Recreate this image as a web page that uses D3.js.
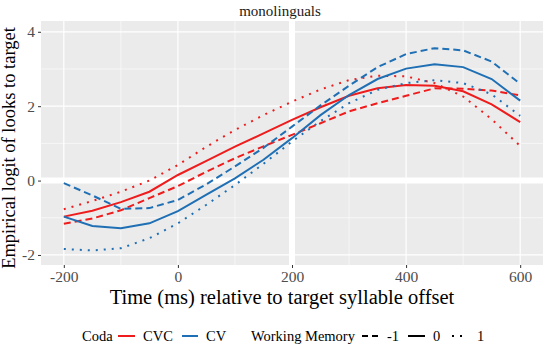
<!DOCTYPE html>
<html><head><meta charset="utf-8">
<script src="https://cdn.jsdelivr.net/npm/d3@7"></script>
<style>body{margin:0;background:#fff}svg{display:block}svg text{font-family:'Liberation Serif',serif !important}</style>
</head><body><svg id="c" width="546" height="347"></svg>
<script>
const times = [-200,-150,-100,-50,0,50,100,150,200,250,300,350,400,450,500,550,600];
const cvcNeg1 = [-1.16,-1.02,-0.80,-0.47,-0.15,0.24,0.60,0.92,1.23,1.54,1.86,2.08,2.28,2.48,2.47,2.42,2.29];
const cvc0    = [-0.97,-0.81,-0.58,-0.30,0.15,0.53,0.91,1.27,1.63,1.97,2.28,2.48,2.57,2.55,2.40,2.05,1.57];
const cvc1    = [-0.77,-0.55,-0.30,0.00,0.42,0.91,1.36,1.76,2.12,2.45,2.70,2.82,2.80,2.62,2.26,1.65,0.93];
const cvNeg1  = [-0.07,-0.40,-0.76,-0.74,-0.52,-0.10,0.38,0.88,1.45,2.02,2.55,3.05,3.40,3.56,3.50,3.20,2.60];
const cv0     = [-0.97,-1.22,-1.28,-1.15,-0.82,-0.38,0.06,0.56,1.14,1.76,2.30,2.73,3.01,3.13,3.05,2.73,2.15];
const cv1     = [-1.84,-1.88,-1.82,-1.55,-1.15,-0.65,-0.12,0.45,1.05,1.60,2.08,2.44,2.62,2.70,2.62,2.32,1.74];
const codaLevels = ["CVC","CV"];
const wmLevels = ["-1","0","1"];
const xTicks = [-200,0,200,400,600];
const xMinor = [-100,100,300,500];
const yTicks = [-2,0,2,4];
const yMinor = [-1,1,3];
const refX = [200];
const refY = [0];
const facetTitle = "monolinguals";

const series = [
  {coda:"CVC", wm:"-1", values:cvcNeg1},
  {coda:"CVC", wm:"0", values:cvc0},
  {coda:"CVC", wm:"1", values:cvc1},
  {coda:"CV", wm:"-1", values:cvNeg1},
  {coda:"CV", wm:"0", values:cv0},
  {coda:"CV", wm:"1", values:cv1}
];
const color = d3.scaleOrdinal().domain(codaLevels).range(["#ee1c1c","#1f6fb4"]);
const dash = d3.scaleOrdinal().domain(wmLevels).range(["7,4","none","2,6"]);

const svg = d3.select("#c");
const L=41, R=543, T=21, B=265;
const x = d3.scaleLinear().domain([-240,640]).range([L,R]);
const y = d3.scaleLinear().domain([-2.27,4.29]).range([B,T]);
const SERIF = "'Liberation Serif', serif";

svg.append("rect").attr("x",L).attr("y",T).attr("width",R-L).attr("height",B-T).attr("fill","#ebebeb");
const g = svg.append("g");
xMinor.forEach(v=>g.append("line").attr("x1",x(v)).attr("x2",x(v)).attr("y1",T).attr("y2",B).attr("stroke","#fff").attr("stroke-width",0.6));
yMinor.forEach(v=>g.append("line").attr("x1",L).attr("x2",R).attr("y1",y(v)).attr("y2",y(v)).attr("stroke","#fff").attr("stroke-width",0.6));
xTicks.forEach(v=>g.append("line").attr("x1",x(v)).attr("x2",x(v)).attr("y1",T).attr("y2",B).attr("stroke","#fff").attr("stroke-width",1.2));
yTicks.forEach(v=>g.append("line").attr("x1",L).attr("x2",R).attr("y1",y(v)).attr("y2",y(v)).attr("stroke","#fff").attr("stroke-width",1.2));
refX.forEach(v=>g.append("line").attr("x1",x(v)).attr("x2",x(v)).attr("y1",T).attr("y2",B).attr("stroke","#fff").attr("stroke-width",6));
refY.forEach(v=>g.append("line").attr("x1",L).attr("x2",R).attr("y1",y(v)).attr("y2",y(v)).attr("stroke","#fff").attr("stroke-width",6));

const line = d3.line().x((d,i)=>x(times[i])).y(d=>y(d));
svg.append("g").selectAll("path").data(series).join("path")
  .attr("d",d=>line(d.values)).attr("fill","none")
  .attr("stroke",d=>color(d.coda)).attr("stroke-width",2)
  .attr("stroke-dasharray",d=>dash(d.wm)).attr("stroke-linecap","butt");

// axes
const fmt = v => String(v);
const xa = svg.append("g").attr("transform",`translate(0,${B})`).call(d3.axisBottom(x).tickValues(xTicks).tickFormat(fmt).tickSize(3).tickPadding(3));
const ya = svg.append("g").attr("transform",`translate(${L},0)`).call(d3.axisLeft(y).tickValues(yTicks).tickFormat(fmt).tickSize(3).tickPadding(3));
[xa,ya].forEach(a=>{a.attr("font-family",SERIF).attr("font-size",15.5);
  a.select(".domain").remove();a.selectAll("line").attr("stroke","#333");
  a.selectAll("text").attr("fill","#4d4d4d");});

svg.append("text").attr("x",280).attr("y",16).attr("text-anchor","middle").attr("font-family",SERIF).attr("font-size",15).attr("fill","#1a1a1a").text(facetTitle);
svg.append("text").attr("x",(L+R)/2-10).attr("y",304).attr("text-anchor","middle").attr("font-family",SERIF).attr("font-size",20.5).text("Time (ms) relative to target syllable offset");
svg.append("text").attr("transform",`translate(15,${(T+B)/2+5}) rotate(-90)`).attr("text-anchor","middle").attr("font-family",SERIF).attr("font-size",18.5).text("Empirical logit of looks to target");

// legend
const ly = 336;
const lg = svg.append("g").attr("font-family",SERIF).attr("font-size",14.5);
const lt = (xx,t)=>lg.append("text").attr("x",xx).attr("y",ly+5).text(t);
const lk = (x1,x2,c,da)=>lg.append("line").attr("x1",x1).attr("x2",x2).attr("y1",ly).attr("y2",ly).attr("stroke",c).attr("stroke-width",2).attr("stroke-dasharray",da);
lt(82,"Coda");
lk(118,135,color("CVC"),"none"); lt(143,"CVC");
lk(182,198,color("CV"),"none"); lt(206,"CV");
lt(251,"Working Memory");
lk(362,379,"#000","6,4"); lt(387,"-1");
lk(408,425,"#000","none"); lt(433,"0");
lk(452,467,"#000",dash("1")); lt(477,"1");
</script></body></html>
